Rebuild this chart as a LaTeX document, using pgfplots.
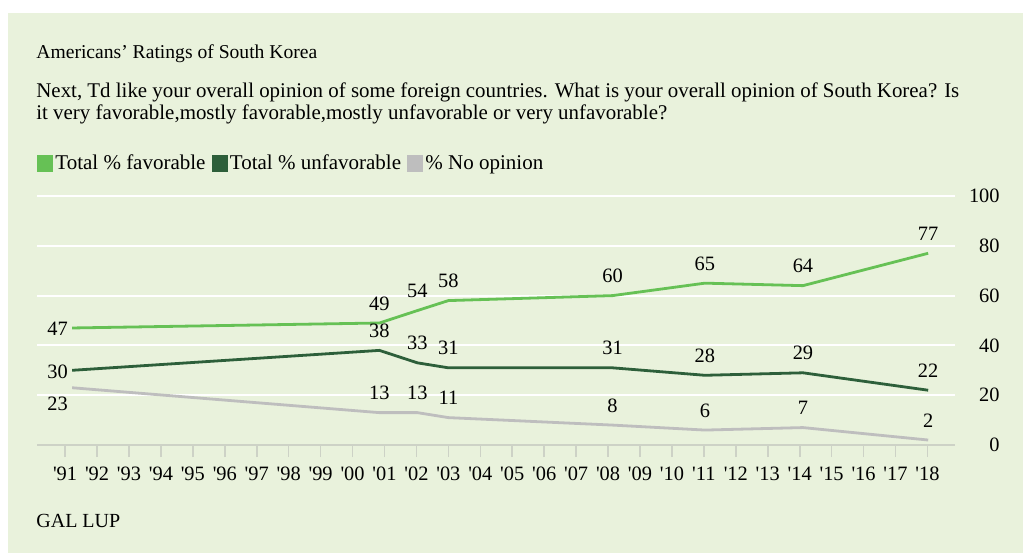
\documentclass[border=0pt]{standalone}
\usepackage{fontspec}
\setmainfont{Liberation Serif}
\usepackage{pgfplots}
\usepackage{pgfplotstable}
\pgfplotsset{compat=1.18}
\definecolor{bg}{HTML}{E9F2DC}
\definecolor{fav}{HTML}{66C155}
\definecolor{unfav}{HTML}{2D5F3A}
\definecolor{noop}{HTML}{BEBEBE}
\definecolor{axgrey}{HTML}{CDD2C6}
\newcommand\q{\textquotesingle}

\pgfplotstableread{
year     fav unfav noop
1991.22  47  30    23
2000.84  49  38    13
2002.03  54  33    13
2003.00  58  31    11
2008.14  60  31    8
2011.03  65  28    6
2014.10  64  29    7
2018.02  77  22    2
}\ratings

\begin{document}
\begin{tikzpicture}
\begin{scope}[x=0.5pt,y=-0.5pt]
\useasboundingbox (0,0) rectangle (1023,553);
\fill[white] (0,0) rectangle (1023,553);
\fill[bg] (8,13) rectangle (1023,553);
\node[anchor=base west, inner sep=0pt, font=\fontsize{9.8}{11}\selectfont] at (36,58) {Americans\textquoteright{} Ratings of South Korea};
\node[anchor=base west, inner sep=0pt, font=\fontsize{10.45}{12}\selectfont] at (36,97) {Next, Td like your overall opinion of some foreign countries. What is your overall opinion of South Korea? Is};
\node[anchor=base west, inner sep=0pt, font=\fontsize{10.45}{12}\selectfont] at (36,119) {it very favorable,mostly favorable,mostly unfavorable or very unfavorable?};
\node[anchor=base west, inner sep=0pt, font=\fontsize{10}{12}\selectfont] at (36,527) {GAL LUP};
\end{scope}
\begin{axis}[
  at={(18.5pt,-222.5pt)}, anchor=south west,
  scale only axis, width=459pt, height=124.5pt,
  xmin=1990.12, xmax=2018.86, ymin=0, ymax=100,
  clip=false,
  axis line style={draw=none},
  /pgf/number format/assume math mode=true,
  tick label style={font=\fontsize{10.2}{12}\selectfont, text=black},
  xtick={1991,...,2018},
  xticklabels={\q91,\q92,\q93,\q94,\q95,\q96,\q97,\q98,\q99,\q00,\q01,\q02,\q03,\q04,\q05,\q06,\q07,\q08,\q09,\q10,\q11,\q12,\q13,\q14,\q15,\q16,\q17,\q18},
  xticklabel style={yshift=-1.5pt},
  xtick pos=left, tick align=outside, major tick length=6pt,
  xtick style={axgrey, line width=0.8pt},
  ytick={20,40,60,80,100},
  extra y ticks={0},
  extra y tick style={grid=major, major grid style={axgrey, line width=1pt}},
  ytick style={draw=none},
  yticklabel pos=right,
  yticklabel style={anchor=east, xshift=16.5pt, inner sep=0pt},
  ymajorgrids, major grid style={white, line width=1pt},
  legend style={at={(axis description cs:0,1)}, anchor=south west, yshift=11.75pt,
    draw=none, fill=none, inner sep=0pt, outer sep=0pt,
    font=\fontsize{10.5}{12}\selectfont, legend columns=-1,
    nodes={inner sep=0pt},
    /tikz/every odd column/.append style={column sep=1pt},
    /tikz/every even column/.append style={column sep=3pt}},
  legend image code/.code={\fill[#1] (0pt,-3.4pt) rectangle (6.8pt,3.4pt);},
  lbl/.style={draw=none, forget plot, nodes near coords,
    every node near coord/.append style={anchor=base, yshift=6.5pt, inner sep=0pt, text=black, font=\fontsize{10.2}{12}\selectfont}},
  lblfirst/.style={draw=none, forget plot, nodes near coords,
    every node near coord/.append style={anchor=base east, xshift=-2pt, yshift=#1, inner sep=0pt, text=black, font=\fontsize{10.2}{12}\selectfont}},
]
\addplot[fav, line width=1.4pt] table[x=year, y=fav] {\ratings};
\addlegendentry{Total \% favorable}
\addplot[unfav, line width=1.4pt] table[x=year, y=unfav] {\ratings};
\addlegendentry{Total \% unfavorable}
\addplot[noop, line width=1.4pt] table[x=year, y=noop] {\ratings};
\addlegendentry{\% No opinion}

\addplot[lbl] table[x=year, y=fav, skip coords between index={0}{1}] {\ratings};
\addplot[lbl] table[x=year, y=unfav, skip coords between index={0}{1}] {\ratings};
\addplot[lbl] table[x=year, y=noop, skip coords between index={0}{1}] {\ratings};
\addplot[lblfirst=-4pt] table[x=year, y=fav, skip coords between index={1}{8}] {\ratings};
\addplot[lblfirst=-4pt] table[x=year, y=unfav, skip coords between index={1}{8}] {\ratings};
\addplot[lblfirst=-11.5pt] table[x=year, y=noop, skip coords between index={1}{8}] {\ratings};
\end{axis}
\end{tikzpicture}
\end{document}
